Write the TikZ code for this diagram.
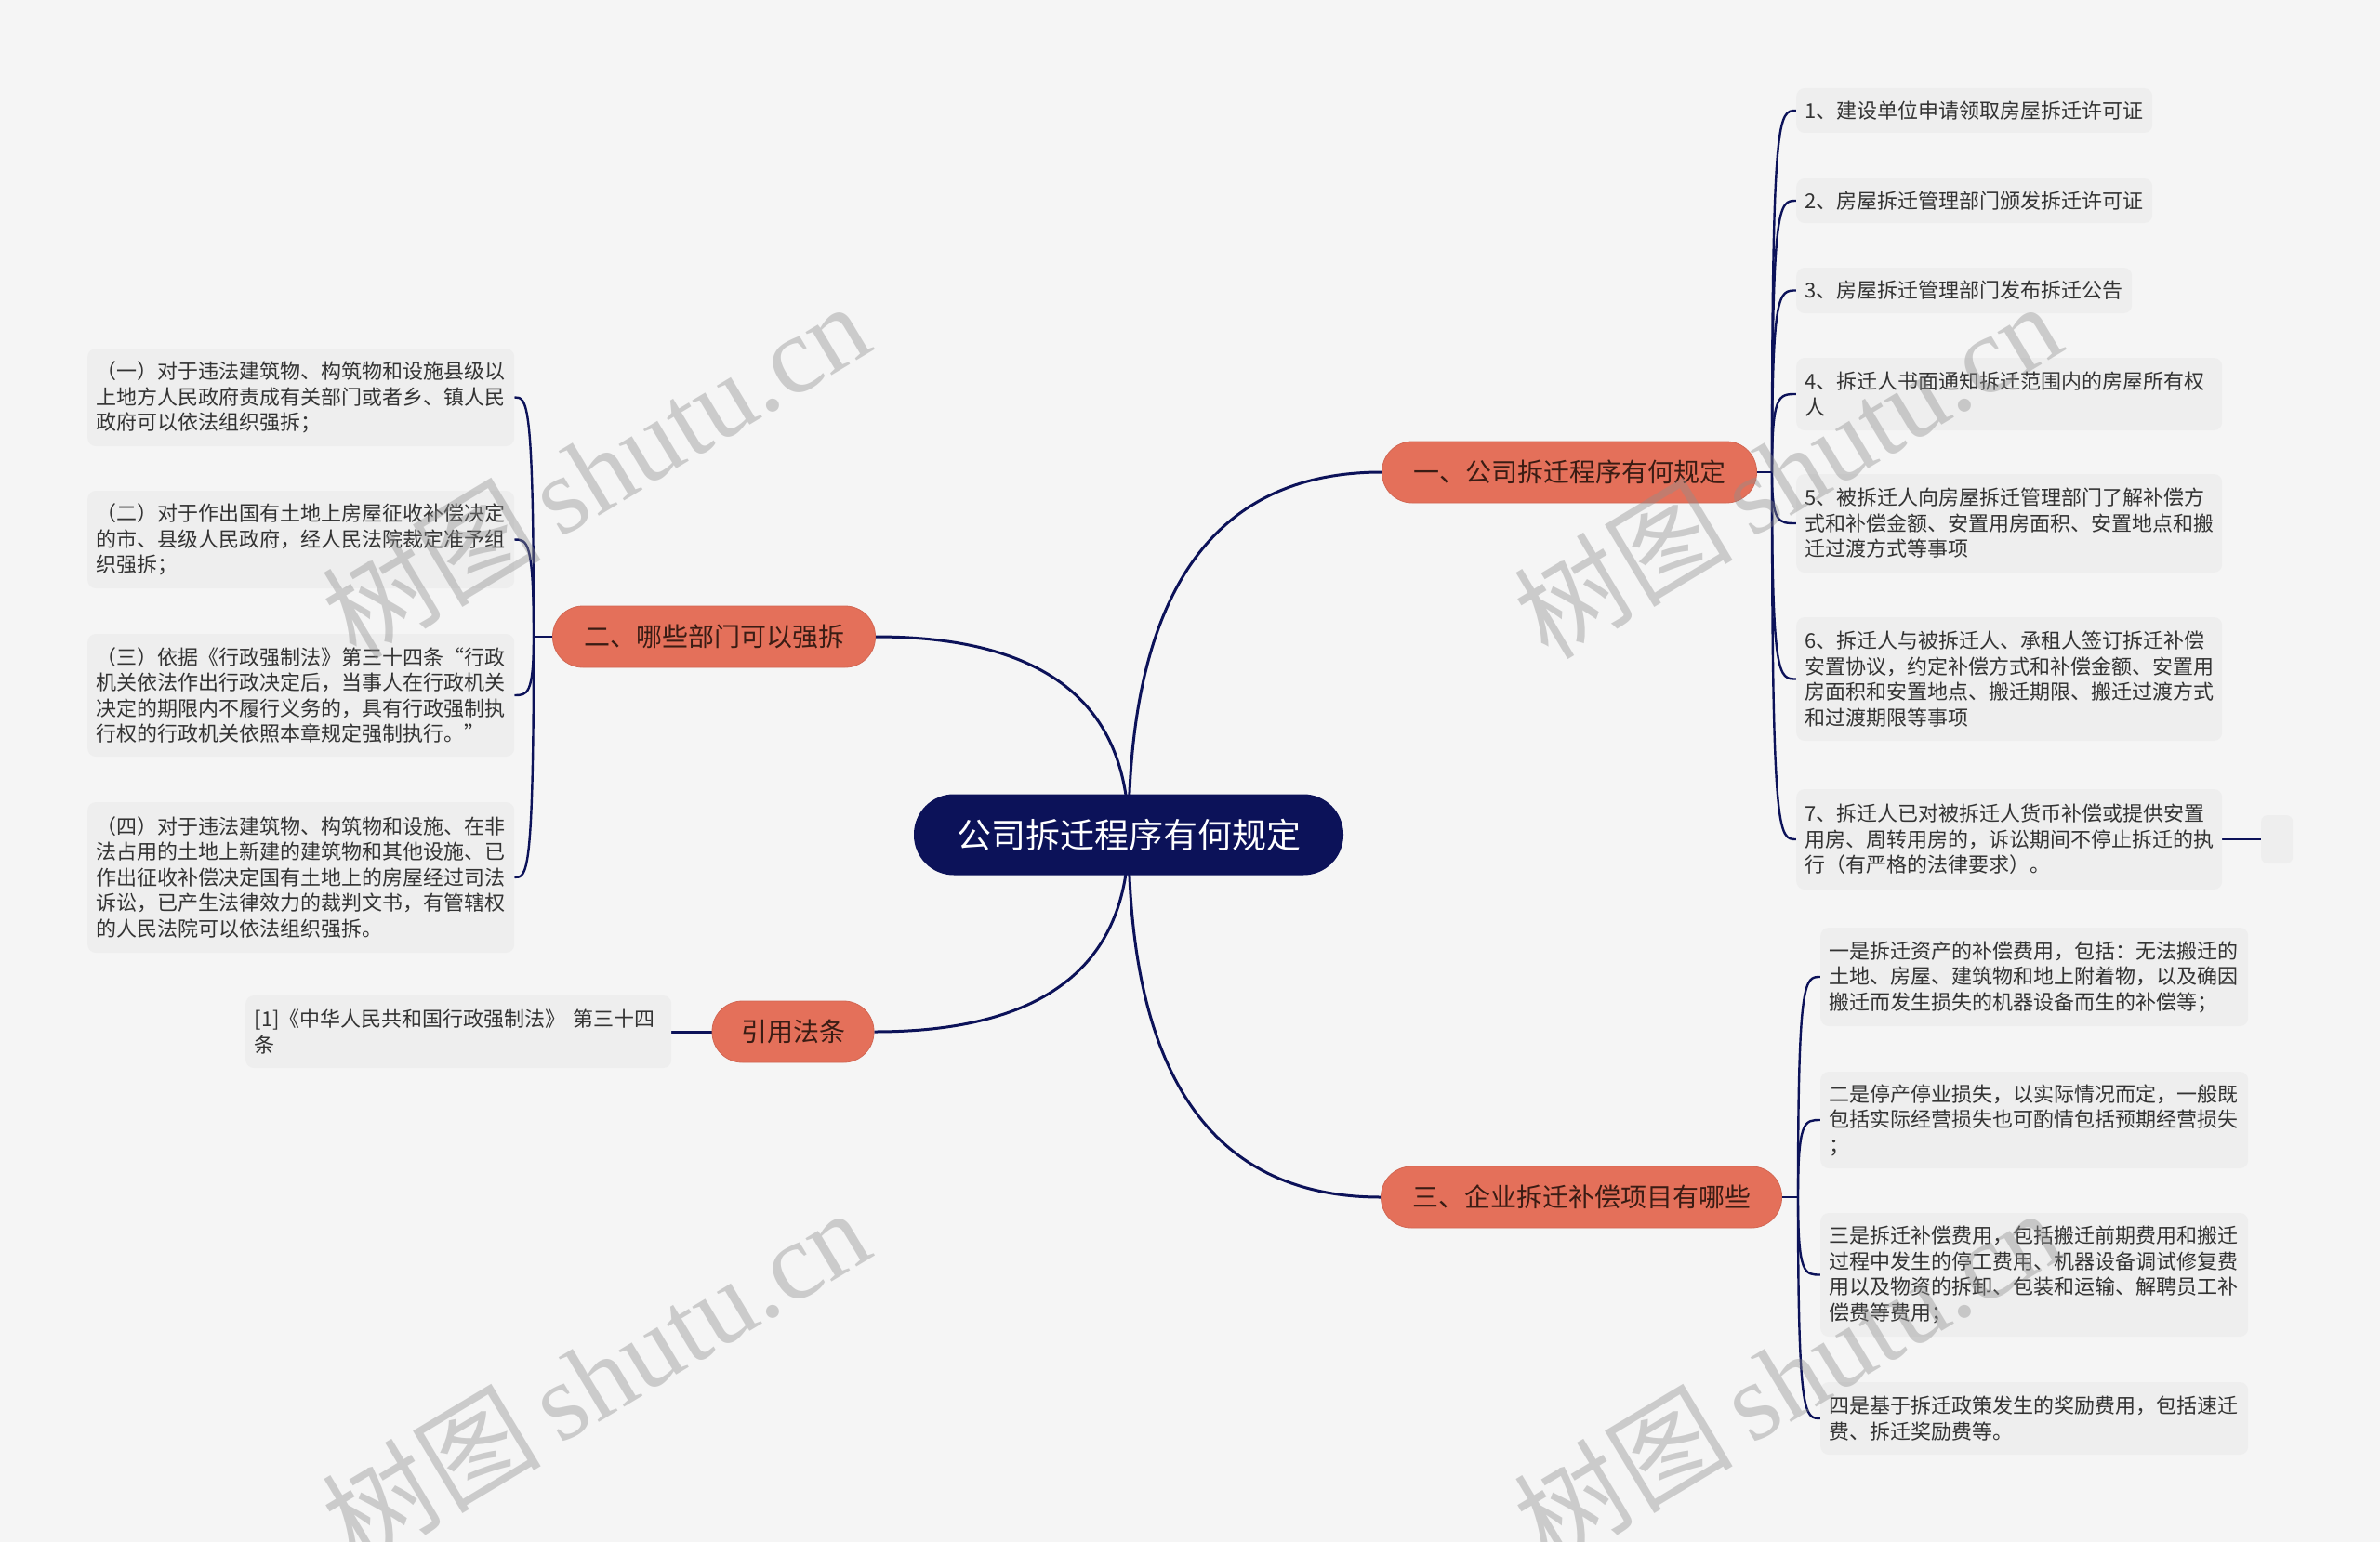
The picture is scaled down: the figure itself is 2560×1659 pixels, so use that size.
\documentclass[tikz,border=0pt]{standalone}
\usepackage{fontspec}
\setmainfont{Noto Sans CJK SC}
\newfontfamily\cjkwm{Noto Sans CJK SC}
\newfontfamily\wmserif{Liberation Serif}
\usetikzlibrary{backgrounds,calc}
\definecolor{bgc}{HTML}{F5F5F5}
\definecolor{navy}{HTML}{0C1259}
\definecolor{pillc}{HTML}{E4705A}
\definecolor{leafbg}{HTML}{EEEEEE}
\definecolor{leaftxt}{HTML}{333333}
\definecolor{pilltxt}{HTML}{3A1C14}
\definecolor{wmc}{HTML}{8E8E8E}
\begin{document}
\begin{tikzpicture}[x=1pt,y=-1pt,
  rootbox/.style={fill=navy, text=white, rounded corners=43pt, minimum height=87pt, inner sep=0pt, font=\fontsize{37}{44}\selectfont},
  branchbox/.style={fill=pillc, draw=pillc!92!black, line width=0.8pt, text=pilltxt, rounded corners=32.5pt, minimum height=66pt, inner sep=0pt, font=\fontsize{28}{34}\selectfont},
  leafbox/.style={fill=leafbg, rounded corners=9pt, text=leaftxt, inner xsep=9.5pt, inner ysep=0pt, align=left, anchor=west, font=\fontsize{22}{27.5}\selectfont},
  emptybox/.style={fill=leafbg, rounded corners=7pt, inner sep=0pt, anchor=west},
  mainconn/.style={draw=navy, line width=3pt},
  leafconn/.style={draw=navy, line width=2.4pt},
  wmark/.style={text=wmc, opacity=0.4, rotate=31, font=\fontsize{118}{128}\selectfont},
]
\begin{scope}[on background layer]
\fill[bgc] (0,0) rectangle (2560,1659);
\end{scope}
\useasboundingbox (0,0) rectangle (2560,1659);

% root and branches
\node[rootbox, minimum width=462pt] (root) at (1214,898) {公司拆迁程序有何规定};
\node[branchbox, minimum width=403pt] (b1) at (1688,508) {一、公司拆迁程序有何规定};
\node[branchbox, minimum width=347pt] (b2) at (768,685) {二、哪些部门可以强拆};
\node[branchbox, minimum width=431pt] (b3) at (1701,1288) {三、企业拆迁补偿项目有哪些};
\node[branchbox, minimum width=174pt] (b4) at (853,1110) {引用法条};

% branch 1 leaves
\node[leafbox, text width=364pt, minimum height=48pt] (r1) at (1932,119) {1、建设单位申请领取房屋拆迁许可证};
\node[leafbox, text width=364pt, minimum height=48pt] (r2) at (1932,216) {2、房屋拆迁管理部门颁发拆迁许可证};
\node[leafbox, text width=342pt, minimum height=49pt] (r3) at (1932,312.5) {3、房屋拆迁管理部门发布拆迁公告};
\node[leafbox, text width=439pt, minimum height=78pt] (r4) at (1932,424) {4、拆迁人书面通知拆迁范围内的房屋所有权\\人};
\node[leafbox, text width=439pt, minimum height=106pt] (r5) at (1932,563) {5、被拆迁人向房屋拆迁管理部门了解补偿方\\式和补偿金额、安置用房面积、安置地点和搬\\迁过渡方式等事项};
\node[leafbox, text width=439pt, minimum height=133pt] (r6) at (1932,730.5) {6、拆迁人与被拆迁人、承租人签订拆迁补偿\\安置协议，约定补偿方式和补偿金额、安置用\\房面积和安置地点、搬迁期限、搬迁过渡方式\\和过渡期限等事项};
\node[leafbox, text width=439pt, minimum height=108pt] (r7) at (1932,903) {7、拆迁人已对被拆迁人货币补偿或提供安置\\用房、周转用房的，诉讼期间不停止拆迁的执\\行（有严格的法律要求）。};
\node[emptybox, minimum width=34pt, minimum height=52pt] (r7x) at (2432,903) {};

% branch 2 leaves
\node[leafbox, text width=440pt, minimum height=105pt] (l1) at (94,427.5) {（一）对于违法建筑物、构筑物和设施县级以\\上地方人民政府责成有关部门或者乡、镇人民\\政府可以依法组织强拆；};
\node[leafbox, text width=440pt, minimum height=105pt] (l2) at (94,580.5) {（二）对于作出国有土地上房屋征收补偿决定\\的市、县级人民政府，经人民法院裁定准予组\\织强拆；};
\node[leafbox, text width=440pt, minimum height=132pt] (l3) at (94,748) {（三）依据《行政强制法》第三十四条“行政\\机关依法作出行政决定后，当事人在行政机关\\决定的期限内不履行义务的，具有行政强制执\\行权的行政机关依照本章规定强制执行。”};
\node[leafbox, text width=440pt, minimum height=162pt] (l4) at (94,944) {（四）对于违法建筑物、构筑物和设施、在非\\法占用的土地上新建的建筑物和其他设施、已\\作出征收补偿决定国有土地上的房屋经过司法\\诉讼，已产生法律效力的裁判文书，有管辖权\\的人民法院可以依法组织强拆。};

% branch 3 leaves
\node[leafbox, text width=441pt, minimum height=106pt] (s1) at (1958,1051) {一是拆迁资产的补偿费用，包括：无法搬迁的\\土地、房屋、建筑物和地上附着物，以及确因\\搬迁而发生损失的机器设备而生的补偿等；};
\node[leafbox, text width=441pt, minimum height=104pt] (s2) at (1958,1205) {二是停产停业损失，以实际情况而定，一般既\\包括实际经营损失也可酌情包括预期经营损失\\；};
\node[leafbox, text width=441pt, minimum height=133pt] (s3) at (1958,1371.5) {三是拆迁补偿费用，包括搬迁前期费用和搬迁\\过程中发生的停工费用、机器设备调试修复费\\用以及物资的拆卸、包装和运输、解聘员工补\\偿费等费用；};
\node[leafbox, text width=441pt, minimum height=78pt] (s4) at (1958,1526) {四是基于拆迁政策发生的奖励费用，包括速迁\\费、拆迁奖励费等。};

% branch 4 leaf
\node[leafbox, text width=439pt, minimum height=78pt] (c1) at (264,1110) {[1]《中华人民共和国行政强制法》 第三十四\\条};

\coordinate (b1s) at (1906,508);
\coordinate (b2s) at (574,685);
\coordinate (b3s) at (1934,1288);

\begin{scope}[on background layer]
% root to branches (quadratic curves)
\foreach \b/\e in {b1/west, b3/west, b2/east, b4/east}{
  \draw[mainconn] (root.center) .. controls ($(root.center)!0.667!(root.center |- \b.\e)$) and ($(\b.\e)!0.667!(root.center |- \b.\e)$) .. (\b.\e);
}
% branch 1
\draw[leafconn] (b1.east) -- (b1s);
\foreach \n in {r1,r2,r3,r4,r5,r6,r7}{
  \draw[leafconn] (b1s) .. controls (b1s |- \n.west) and ([xshift=7pt]b1s |- \n.west) .. (\n.west);
}
\draw[leafconn] (r7.east) -- (r7x.west);
% branch 2
\draw[leafconn] (b2.west) -- (b2s);
\foreach \n in {l1,l2,l3,l4}{
  \draw[leafconn] (b2s) .. controls (b2s |- \n.east) and ([xshift=-7pt]b2s |- \n.east) .. (\n.east);
}
% branch 3
\draw[leafconn] (b3.east) -- (b3s);
\foreach \n in {s1,s2,s3,s4}{
  \draw[leafconn] (b3s) .. controls (b3s |- \n.west) and ([xshift=7pt]b3s |- \n.west) .. (\n.west);
}
% branch 4
\draw[mainconn] (b4.west) -- (c1.east);
\end{scope}

% watermarks
\node[wmark] (wm1) at (640,505) {\cjkwm 树图\,\wmserif shutu.cn};
\node[wmark] (wm2) at (1922,505) {\cjkwm 树图\,\wmserif shutu.cn};
\node[wmark] (wm3) at (640,1480) {\cjkwm 树图\,\wmserif shutu.cn};
\node[wmark] (wm4) at (1922,1480) {\cjkwm 树图\,\wmserif shutu.cn};
\end{tikzpicture}
\end{document}
